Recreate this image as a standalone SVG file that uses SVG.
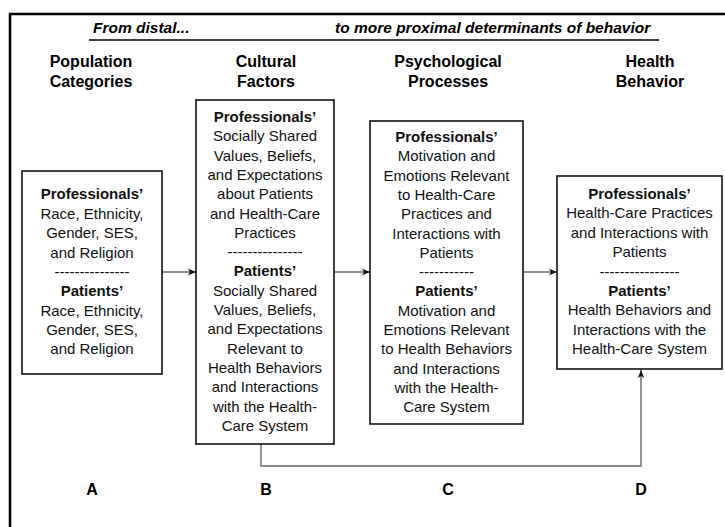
<svg xmlns="http://www.w3.org/2000/svg" width="725" height="527" viewBox="0 0 725 527">
  <style>
    .frame { fill: none; stroke: #000; stroke-width: 2.5; }
    .box { fill: #fff; stroke: #111; stroke-width: 1.6; }
    .t { font-family: "Liberation Sans", Arial, sans-serif; font-size: 15px; fill: #111; text-anchor: middle; }
    .b { font-weight: bold; }
    .hdr { font-family: "Liberation Sans", Arial, sans-serif; font-size: 16px; font-weight: bold; fill: #000; text-anchor: middle; }
    .top { font-family: "Liberation Sans", Arial, sans-serif; font-size: 15.5px; font-weight: bold; font-style: italic; fill: #000; }
    .arrow { stroke: #222; stroke-width: 1.2; fill: none; marker-end: url(#head); }
    .loop { stroke: #666; stroke-width: 1.4; fill: none; marker-end: url(#head); }
  </style>
  <defs>
    <marker id="head" viewBox="0 0 10 10" refX="10" refY="5" markerWidth="8" markerHeight="8" markerUnits="userSpaceOnUse" orient="auto">
      <path d="M0,1 L10,5 L0,9 L2.5,5 Z" fill="#111"/>
    </marker>
  </defs>

  <rect width="725" height="527" fill="#fff"/>

  <!-- outer frame -->
  <path class="frame" d="M10,540 V14 H740"/>

  <!-- heading band -->
  <text class="top" x="93" y="33">From distal...</text>
  <text class="top" x="335" y="33">to more proximal determinants of behavior</text>
  <line x1="89" y1="40" x2="659" y2="40" stroke="#000" stroke-width="1.6"/>

  <!-- column headings -->
  <g id="headings">
    <text class="hdr" x="91" y="67">Population</text>
    <text class="hdr" x="91" y="87">Categories</text>
    <text class="hdr" x="266" y="67">Cultural</text>
    <text class="hdr" x="266" y="87">Factors</text>
    <text class="hdr" x="448" y="67">Psychological</text>
    <text class="hdr" x="448" y="87">Processes</text>
    <text class="hdr" x="650" y="67">Health</text>
    <text class="hdr" x="650" y="87">Behavior</text>
  </g>

  <!-- connectors -->
  <g id="connectors">
    <line class="arrow" x1="162" y1="272" x2="196" y2="272"/>
    <line class="arrow" x1="334" y1="272" x2="370" y2="272"/>
    <line class="arrow" x1="523" y1="272" x2="557" y2="272"/>
    <path class="loop" d="M261,444 V466 H641 V370"/>
  </g>

  <!-- A: population categories -->
  <g id="nodeA">
    <rect class="box" x="22" y="171" width="140" height="203"/>
    <text class="t b" x="92" y="199">Professionals’</text>
    <text class="t" x="92" y="218.5">Race, Ethnicity,</text>
    <text class="t" x="92" y="238">Gender, SES,</text>
    <text class="t" x="92" y="257.5">and Religion</text>
    <text class="t" x="92" y="277">---------------</text>
    <text class="t b" x="92" y="296">Patients’</text>
    <text class="t" x="92" y="315.5">Race, Ethnicity,</text>
    <text class="t" x="92" y="335">Gender, SES,</text>
    <text class="t" x="92" y="354">and Religion</text>
  </g>

  <!-- B: cultural factors -->
  <g id="nodeB">
    <rect class="box" x="196" y="100" width="138" height="344"/>
    <text class="t b" x="265" y="122">Professionals’</text>
    <text class="t" x="265" y="141.3">Socially Shared</text>
    <text class="t" x="265" y="160.6">Values, Beliefs,</text>
    <text class="t" x="265" y="179.9">and Expectations</text>
    <text class="t" x="265" y="199.2">about Patients</text>
    <text class="t" x="265" y="218.5">and Health-Care</text>
    <text class="t" x="265" y="237.8">Practices</text>
    <text class="t" x="265" y="257.1">---------------</text>
    <text class="t b" x="265" y="276.4">Patients’</text>
    <text class="t" x="265" y="295.7">Socially Shared</text>
    <text class="t" x="265" y="315">Values, Beliefs,</text>
    <text class="t" x="265" y="334.3">and Expectations</text>
    <text class="t" x="265" y="353.6">Relevant to</text>
    <text class="t" x="265" y="372.9">Health Behaviors</text>
    <text class="t" x="265" y="392.2">and Interactions</text>
    <text class="t" x="265" y="411.5">with the Health-</text>
    <text class="t" x="265" y="430.8">Care System</text>
  </g>

  <!-- C: psychological processes -->
  <g id="nodeC">
    <rect class="box" x="370" y="121" width="153" height="303"/>
    <text class="t b" x="446.5" y="142">Professionals’</text>
    <text class="t" x="446.5" y="161.3">Motivation and</text>
    <text class="t" x="446.5" y="180.6">Emotions Relevant</text>
    <text class="t" x="446.5" y="199.9">to Health-Care</text>
    <text class="t" x="446.5" y="219.2">Practices and</text>
    <text class="t" x="446.5" y="238.5">Interactions with</text>
    <text class="t" x="446.5" y="257.8">Patients</text>
    <text class="t" x="446.5" y="277.1">-----------</text>
    <text class="t b" x="446.5" y="296.4">Patients’</text>
    <text class="t" x="446.5" y="315.7">Motivation and</text>
    <text class="t" x="446.5" y="335">Emotions Relevant</text>
    <text class="t" x="446.5" y="354.3">to Health Behaviors</text>
    <text class="t" x="446.5" y="373.6">and Interactions</text>
    <text class="t" x="446.5" y="392.9">with the Health-</text>
    <text class="t" x="446.5" y="412.2">Care System</text>
  </g>

  <!-- D: health behavior -->
  <g id="nodeD">
    <rect class="box" x="557" y="176" width="165" height="193"/>
    <text class="t b" x="639.5" y="199">Professionals’</text>
    <text class="t" x="639.5" y="218.4">Health-Care Practices</text>
    <text class="t" x="639.5" y="237.8">and Interactions with</text>
    <text class="t" x="639.5" y="257.2">Patients</text>
    <text class="t" x="639.5" y="276.6">----------------</text>
    <text class="t b" x="639.5" y="296">Patients’</text>
    <text class="t" x="639.5" y="315.4">Health Behaviors and</text>
    <text class="t" x="639.5" y="334.8">Interactions with the</text>
    <text class="t" x="639.5" y="354.2">Health-Care System</text>
  </g>

  <!-- column letters -->
  <g id="letters">
    <text class="hdr" x="92" y="495">A</text>
    <text class="hdr" x="266" y="495">B</text>
    <text class="hdr" x="448" y="495">C</text>
    <text class="hdr" x="641" y="495">D</text>
  </g>
</svg>
